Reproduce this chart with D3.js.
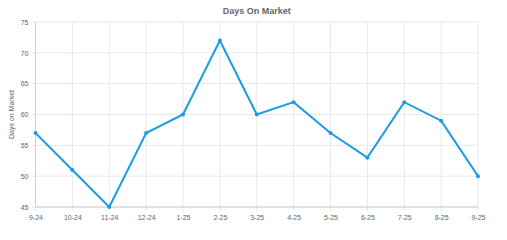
<!DOCTYPE html>
<html>
<head>
<meta charset="utf-8">
<script src="https://cdn.jsdelivr.net/npm/d3@7"></script>
<style>
  body { margin: 0; background: #fff; }
  text { font-family: "Liberation Sans", Arial, sans-serif; }
</style>
</head>
<body>
<div id="chart"></div>
<script>
// chart size and plot margins
const width = 507, height = 240;
const margin = { left: 35.5, right: 29, top: 22, bottom: 33 };

// data
const months = ["9-24", "10-24", "11-24", "12-24", "1-25", "2-25", "3-25", "4-25", "5-25", "6-25", "7-25", "8-25", "9-25"];
const days = [57, 51, 45, 57, 60, 72, 60, 62, 57, 53, 62, 59, 50];
const yTicks = [45, 50, 55, 60, 65, 70, 75];

const lineColor = "#1c9ce6";

const svg = d3.select("#chart")
    .append("svg")
    .attr("width", width)
    .attr("height", height);

const x = d3.scalePoint()
    .domain(months)
    .range([margin.left, width - margin.right]);

const y = d3.scaleLinear()
    .domain([45, 75])
    .range([height - margin.bottom, margin.top]);

// grid lines
svg.append("g")
    .selectAll("line")
    .data(months)
    .join("line")
    .attr("x1", d => x(d)).attr("x2", d => x(d))
    .attr("y1", margin.top).attr("y2", height - margin.bottom + 4)
    .attr("stroke", "#e8e8e8")
    .attr("stroke-width", 1);

svg.append("g")
    .selectAll("line")
    .data(yTicks)
    .join("line")
    .attr("x1", margin.left - 4).attr("x2", width - margin.right)
    .attr("y1", d => y(d)).attr("y2", d => y(d))
    .attr("stroke", "#e8e8e8")
    .attr("stroke-width", 1);

// axis lines
svg.append("line")
    .attr("x1", margin.left).attr("x2", margin.left)
    .attr("y1", margin.top).attr("y2", height - margin.bottom)
    .attr("stroke", "#d0d0d0");
svg.append("line")
    .attr("x1", margin.left).attr("x2", width - margin.right)
    .attr("y1", height - margin.bottom).attr("y2", height - margin.bottom)
    .attr("stroke", "#d0d0d0");

// y axis
const yAxis = svg.append("g")
    .attr("transform", `translate(${margin.left},0)`)
    .call(d3.axisLeft(y).tickValues(yTicks).tickSize(0).tickPadding(7));
yAxis.select(".domain").remove();
yAxis.selectAll("text")
    .attr("fill", "#666")
    .style("font-size", "7px");

// x axis
const xAxis = svg.append("g")
    .attr("transform", `translate(0,${height - margin.bottom})`)
    .call(d3.axisBottom(x).tickSize(0).tickPadding(8));
xAxis.select(".domain").remove();
xAxis.selectAll("text")
    .attr("fill", "#666")
    .style("font-size", "7px");

// title
svg.append("text")
    .attr("x", (margin.left + width - margin.right) / 2)
    .attr("y", 14)
    .attr("text-anchor", "middle")
    .attr("fill", "#666")
    .style("font-size", "9px")
    .style("font-weight", "bold")
    .text("Days On Market");

// y axis label
svg.append("text")
    .attr("transform", `translate(14,${(margin.top + height - margin.bottom) / 2}) rotate(-90)`)
    .attr("text-anchor", "middle")
    .attr("fill", "#666")
    .style("font-size", "7px")
    .text("Days on Market");

// the line
const line = d3.line()
    .x((d, i) => x(months[i]))
    .y(d => y(d));

svg.append("path")
    .datum(days)
    .attr("d", line)
    .attr("fill", "none")
    .attr("stroke", lineColor)
    .attr("stroke-width", 2)
    .attr("stroke-linejoin", "miter");

svg.append("g")
    .selectAll("circle")
    .data(days)
    .join("circle")
    .attr("cx", (d, i) => x(months[i]))
    .attr("cy", d => y(d))
    .attr("r", 2)
    .attr("fill", lineColor);
</script>
</body>
</html>
